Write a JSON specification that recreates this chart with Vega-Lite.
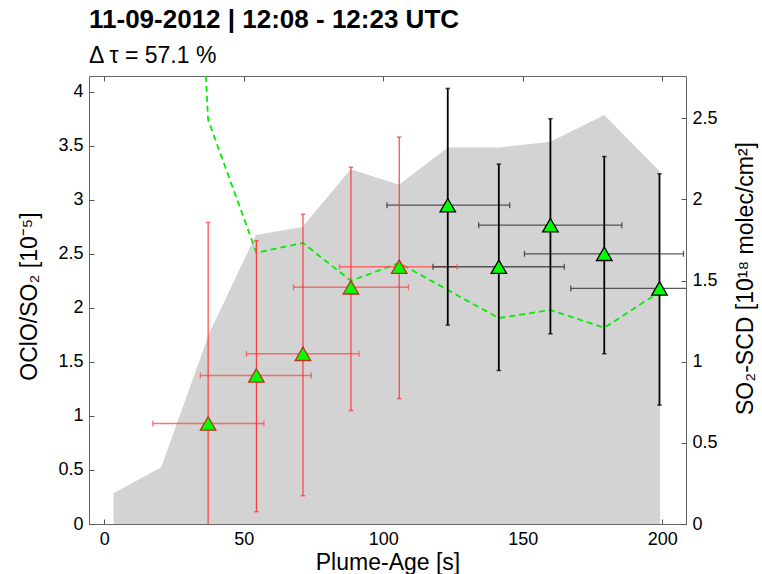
{
  "$schema": "https://vega.github.io/schema/vega-lite/v6.json",
  "width": 597,
  "height": 448,
  "autosize": "none",
  "padding": {"left": 89, "top": 76, "right": 76, "bottom": 50},
  "background": "white",
  "title": {
    "text": "11-09-2012 | 12:08 - 12:23 UTC",
    "subtitle": "Δ  τ = 57.1 %",
    "anchor": "start",
    "frame": "group",
    "font": "Liberation Sans",
    "fontSize": 26,
    "fontWeight": "bold",
    "color": "#000000",
    "subtitleFont": "Liberation Sans",
    "subtitleFontSize": 23,
    "subtitleColor": "#000000",
    "subtitlePadding": 12,
    "offset": 8
  },
  "config": {
    "view": {"stroke": "#666666", "strokeWidth": 1},
    "axis": {
      "labelFont": "Liberation Sans",
      "titleFont": "Liberation Sans",
      "labelFontSize": 18,
      "titleFontSize": 23,
      "titleFontWeight": "normal",
      "labelColor": "#000000",
      "titleColor": "#000000",
      "grid": false,
      "domain": false,
      "tickColor": "#555555",
      "tickSize": -5,
      "labelPadding": 11
    }
  },
  "datasets": {
    "so2": [
      {"x": 3.3, "v": 0.19},
      {"x": 20.4, "v": 0.35},
      {"x": 37.5, "v": 1.17},
      {"x": 54.3, "v": 1.78},
      {"x": 71.0, "v": 1.83},
      {"x": 88.3, "v": 2.185},
      {"x": 105.6, "v": 2.09},
      {"x": 123.1, "v": 2.32},
      {"x": 141.4, "v": 2.32},
      {"x": 159.9, "v": 2.355},
      {"x": 179.2, "v": 2.52},
      {"x": 199.2, "v": 2.17}
    ],
    "dl": [
      {"x": 20.4, "v": 12.0},
      {"x": 37.2, "v": 3.74},
      {"x": 54.5, "v": 2.51},
      {"x": 71.2, "v": 2.60},
      {"x": 88.4, "v": 2.25},
      {"x": 105.7, "v": 2.415},
      {"x": 123.1, "v": 2.165},
      {"x": 141.4, "v": 1.905},
      {"x": 159.9, "v": 1.98},
      {"x": 179.2, "v": 1.816},
      {"x": 199.0, "v": 2.146}
    ],
    "pts": [
      {"x": 37.2, "y": 0.93, "xlo": 17.4, "xhi": 57.2, "ylo": -0.93, "yhi": 2.79, "c": "red"},
      {"x": 54.5, "y": 1.375, "xlo": 34.4, "xhi": 74.2, "ylo": 0.114, "yhi": 2.62, "c": "red"},
      {"x": 71.2, "y": 1.575, "xlo": 50.9, "xhi": 91.3, "ylo": 0.262, "yhi": 2.865, "c": "red"},
      {"x": 88.4, "y": 2.19, "xlo": 67.8, "xhi": 109.0, "ylo": 1.05, "yhi": 3.30, "c": "red"},
      {"x": 105.7, "y": 2.38, "xlo": 84.3, "xhi": 126.4, "ylo": 1.16, "yhi": 3.58, "c": "red"},
      {"x": 123.1, "y": 2.95, "xlo": 101.3, "xhi": 145.3, "ylo": 1.84, "yhi": 4.03, "c": "black"},
      {"x": 141.4, "y": 2.38, "xlo": 117.8, "xhi": 164.9, "ylo": 1.42, "yhi": 3.33, "c": "black"},
      {"x": 159.9, "y": 2.765, "xlo": 134.2, "xhi": 185.5, "ylo": 1.76, "yhi": 3.75, "c": "black"},
      {"x": 179.2, "y": 2.50, "xlo": 150.6, "xhi": 207.6, "ylo": 1.575, "yhi": 3.40, "c": "black"},
      {"x": 199.0, "y": 2.18, "xlo": 167.2, "xhi": 231.0, "ylo": 1.10, "yhi": 3.24, "c": "black"}
    ]
  },
  "resolve": {"scale": {"y": "independent"}, "axis": {"x": "independent"}},
  "layer": [
    {
      "data": {"name": "so2"},
      "mark": {"type": "area", "color": "#d3d3d3", "clip": true},
      "encoding": {
        "x": {
          "field": "x", "type": "quantitative",
          "scale": {"domain": [-5.5, 208.5], "nice": false, "zero": false},
          "axis": {"orient": "bottom", "values": [0, 50, 100, 150, 200], "title": "Plume-Age [s]", "titleBaseline": "alphabetic", "titleY": 45}
        },
        "y": {
          "field": "v", "type": "quantitative",
          "scale": {"domain": [0, 2.76], "nice": false},
          "axis": {"orient": "right", "values": [0, 0.5, 1, 1.5, 2, 2.5], "format": "~g", "title": "SO₂-SCD [10¹⁸ molec/cm²]", "titleAngle": -90, "titleBaseline": "alphabetic", "titleX": 66, "titleY": 202, "titleAlign": "center"}
        }
      }
    },
    {
      "layer": [
        {
          "data": {"name": "dl"},
          "mark": {"type": "line", "color": "#00ee00", "strokeDash": [6, 4], "strokeWidth": 1.8, "clip": true},
          "encoding": {
            "x": {
              "field": "x", "type": "quantitative",
              "scale": {"domain": [-5.5, 208.5], "nice": false, "zero": false},
              "axis": {"orient": "top", "values": [0, 50, 100, 150, 200], "labels": false, "title": null}
            },
            "y": {
              "field": "v", "type": "quantitative",
              "scale": {"domain": [0, 4.145], "nice": false},
              "axis": {"orient": "left", "values": [0, 0.5, 1, 1.5, 2, 2.5, 3, 3.5, 4], "format": "~g", "title": "OClO/SO₂ [10⁻⁵]", "titleAngle": -90, "titleBaseline": "alphabetic", "titleX": -52.5, "titleY": 220, "titleAlign": "center"}
            }
          }
        },
        {
          "data": {"name": "pts"},
          "mark": {"type": "rule", "clip": true, "opacity": 0.8},
          "encoding": {
            "x": {"field": "xlo", "type": "quantitative"},
            "x2": {"field": "xhi"},
            "y": {"field": "y", "type": "quantitative"},
            "color": {"condition": {"test": "datum.c === 'black'", "value": "#333333"}, "value": "#ff5050"},
            "strokeWidth": {"condition": {"test": "datum.c === 'black'", "value": 1.3}, "value": 1.5}
          }
        },
        {
          "data": {"name": "pts"},
          "mark": {"type": "tick", "orient": "vertical", "size": 6, "thickness": 1.3, "clip": true, "opacity": 0.8},
          "encoding": {
            "x": {"field": "xlo", "type": "quantitative"},
            "y": {"field": "y", "type": "quantitative"},
            "color": {"condition": {"test": "datum.c === 'black'", "value": "#333333"}, "value": "#ff5050"}
          }
        },
        {
          "data": {"name": "pts"},
          "mark": {"type": "tick", "orient": "vertical", "size": 6, "thickness": 1.3, "clip": true, "opacity": 0.8},
          "encoding": {
            "x": {"field": "xhi", "type": "quantitative"},
            "y": {"field": "y", "type": "quantitative"},
            "color": {"condition": {"test": "datum.c === 'black'", "value": "#333333"}, "value": "#ff5050"}
          }
        },
        {
          "data": {"name": "pts"},
          "mark": {"type": "rule", "clip": true},
          "encoding": {
            "x": {"field": "x", "type": "quantitative"},
            "y": {"field": "ylo", "type": "quantitative"},
            "y2": {"field": "yhi"},
            "color": {"condition": {"test": "datum.c === 'black'", "value": "#000000"}, "value": "#ff3030"},
            "strokeWidth": {"condition": {"test": "datum.c === 'black'", "value": 1.8}, "value": 1.1}
          }
        },
        {
          "data": {"name": "pts"},
          "mark": {"type": "tick", "orient": "horizontal", "size": 4.5, "thickness": 1.5, "clip": true},
          "encoding": {
            "x": {"field": "x", "type": "quantitative"},
            "y": {"field": "ylo", "type": "quantitative"},
            "color": {"condition": {"test": "datum.c === 'black'", "value": "#000000"}, "value": "#ff3030"}
          }
        },
        {
          "data": {"name": "pts"},
          "mark": {"type": "tick", "orient": "horizontal", "size": 4.5, "thickness": 1.5, "clip": true},
          "encoding": {
            "x": {"field": "x", "type": "quantitative"},
            "y": {"field": "yhi", "type": "quantitative"},
            "color": {"condition": {"test": "datum.c === 'black'", "value": "#000000"}, "value": "#ff3030"}
          }
        },
        {
          "data": {"name": "pts"},
          "mark": {"type": "point", "shape": "triangle-up", "filled": true, "fill": "#00ff00", "fillOpacity": 1, "size": 240, "strokeWidth": 1.3, "strokeOpacity": 1, "opacity": 1},
          "encoding": {
            "x": {"field": "x", "type": "quantitative"},
            "y": {"field": "y", "type": "quantitative"},
            "stroke": {"condition": {"test": "datum.c === 'black'", "value": "#000000"}, "value": "#c03020"}
          }
        }
      ]
    }
  ]
}
